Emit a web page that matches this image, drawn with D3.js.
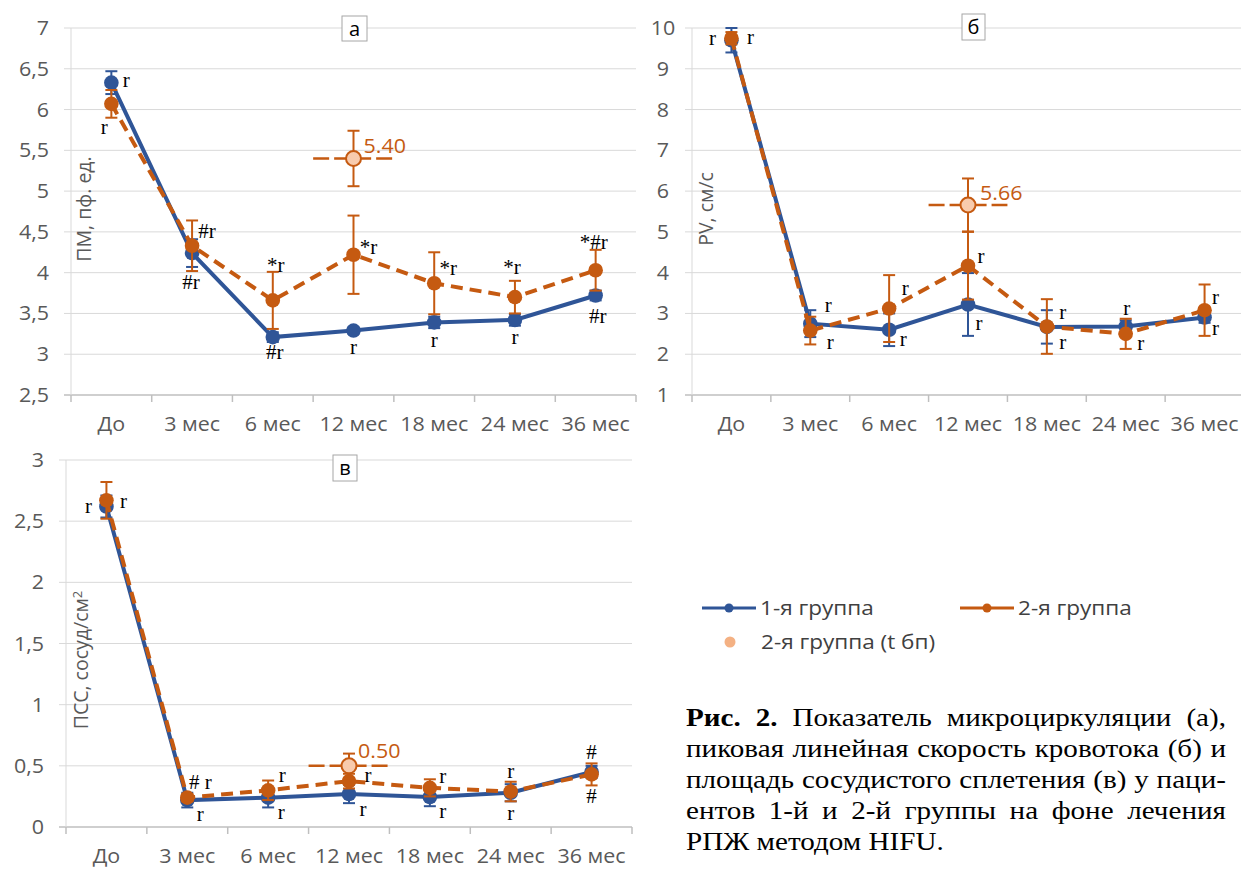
<!DOCTYPE html>
<html>
<head>
<meta charset="utf-8">
<script src="https://cdn.jsdelivr.net/npm/d3@7"></script>
<style>
  body { margin: 0; background: #fff; }
  svg { display: block; }
</style>
</head>
<body>
<svg id="fig" width="1241" height="869"></svg>
<script>
// ---- data ----
const periods = ["До", "3 мес", "6 мес", "12 мес", "18 мес", "24 мес", "36 мес"];
const legendNames = ["1-я группа", "2-я группа", "2-я группа (t бп)"];

// (а) ПМ, пф. ед.
const pmGroup1    = [6.33, 4.24, 3.21, 3.29, 3.39, 3.42, 3.72];
const pmGroup1Err = [0.14, 0.17, 0.06, 0.04, 0.07, 0.07, 0.06];
const pmGroup2    = [6.07, 4.33, 3.66, 4.22, 3.87, 3.70, 4.03];
const pmGroup2Err = [0.17, 0.31, 0.35, 0.48, 0.38, 0.20, 0.25];
const pmTbp = [3, 5.40, 0.34];          // [period index, value, error]
const pmNotes1 = ["r", "#r", "#r", "r", "r", "r", "#r"];
const pmNotes2 = ["r", "#r", "*r", "*r", "*r", "*r", "*#r"];

// (б) PV, см/с
const pvGroup1    = [9.70, 2.75, 2.60, 3.22, 2.67, 2.68, 2.90];
const pvGroup1Err = [0.30, 0.33, 0.40, 0.77, 0.41, 0.15, 0.13];
const pvGroup2    = [9.75, 2.58, 3.12, 4.17, 2.68, 2.50, 3.08];
const pvGroup2Err = [0.15, 0.34, 0.82, 0.83, 0.67, 0.37, 0.63];
const pvTbp = [3, 5.66, 0.65];
const pvNotes1 = ["r", "r", "r", "r", "r", "r", "r"];
const pvNotes2 = ["r", "r", "r", "r", "r", "r", "r"];

// (в) ПСС, сосуд/см2
const pssGroup1    = [2.62, 0.22, 0.24, 0.27, 0.245, 0.28, 0.45];
const pssGroup1Err = [0.09, 0.06, 0.08, 0.075, 0.075, 0.07, 0.05];
const pssGroup2    = [2.67, 0.24, 0.30, 0.375, 0.32, 0.29, 0.43];
const pssGroup2Err = [0.15, 0.03, 0.08, 0.06, 0.07, 0.08, 0.09];
const pssTbp = [3, 0.50, 0.10];
const pssNotes1 = ["r", "r", "r", "r", "r", "r", "#"];
const pssNotes2 = ["r", "# r", "r", "r", "r", "r", "#"];

const captionLines = [
  "Рис. 2. Показатель микроциркуляции (а),",
  "пиковая линейная скорость кровотока (б) и",
  "площадь сосудистого сплетения (в) у паци-",
  "ентов 1-й и 2-й группы на фоне лечения",
  "РПЖ методом HIFU."
];
const captionBold = ["Рис.", "2."];

// ---- styles ----
const BLUE = "#2F5597", ORANGE = "#C55A11", LIGHT = "#F8CBAD", LEGDOT = "#F4B183";
const SANS = "'Open Sans', sans-serif";
const SERIF = "'Liberation Serif', 'Times New Roman', serif";
const GRID = "#d9d9d9", AXIS = "#bfbfbf", TXT = "#595959";
const SX = 1.1;   // the scanned figure is a bit wider than tall

const svg = d3.select("#fig");
const at = (x, y) => `translate(${x},${y}) scale(${SX},1)`;

function drawPanel(p) {
  const g = svg.append("g");
  const x = d3.scaleBand().domain(periods).range([p.left, p.right]);
  const y = d3.scaleLinear().domain(p.domain).range([p.bottom, p.top]);
  const cx = i => x(periods[i]) + x.bandwidth() / 2;
  const ticks = d3.range(p.domain[0], p.domain[1] + 1e-9, p.step);

  // gridlines + left ticks
  g.selectAll(".grid").data(ticks).join("line")
    .attr("x1", p.left - 7).attr("x2", p.right)
    .attr("y1", d => y(d)).attr("y2", d => y(d))
    .attr("stroke", (d, i) => i === 0 ? AXIS : GRID)
    .attr("stroke-width", (d, i) => i === 0 ? 1.5 : 1);
  g.append("line")
    .attr("x1", p.left).attr("x2", p.left)
    .attr("y1", p.top).attr("y2", p.bottom)
    .attr("stroke", GRID);
  // category boundary ticks
  const bounds = periods.map(d => x(d)).concat([p.right]);
  g.selectAll(".ctick").data(bounds).join("line")
    .attr("x1", d => d).attr("x2", d => d)
    .attr("y1", p.bottom).attr("y2", p.bottom + 7)
    .attr("stroke", AXIS).attr("stroke-width", 1.5);

  // y tick labels
  const fmt = d => d3.format(p.step < 1 ? ".1~f" : "d")(d).replace(".", ",");
  g.selectAll(".ylab").data(ticks).join("text")
    .attr("transform", d => at(p.labelX, y(d))).attr("dy", "0.36em")
    .attr("text-anchor", p.labelAnchor)
    .style("font-family", SANS).style("font-size", "19.5px").attr("fill", TXT)
    .text(fmt);

  // x labels
  g.selectAll(".xlab").data(periods).join("text")
    .attr("transform", (d, i) => at(cx(i), p.bottom + 29)).attr("dy", "0.36em")
    .attr("text-anchor", "middle")
    .style("font-family", SANS).style("font-size", "19.5px").attr("fill", TXT)
    .text(d => d);

  // y title
  const yt = g.append("text")
    .attr("transform", `translate(${p.titleX},${p.titleY}) rotate(-90)`)
    .attr("text-anchor", "middle")
    .style("font-family", SANS).style("font-size", "19.5px").attr("fill", TXT)
    .text(p.title);
  if (p.titleSup) yt.append("tspan").attr("dy", "-0.5em").style("font-size", "13px").text(p.titleSup);

  // series
  const line = d3.line().x((d, i) => cx(i)).y(d => y(d));
  function series(vals, errs, color, dash) {
    g.append("path").datum(vals)
      .attr("d", line).attr("fill", "none")
      .attr("stroke", color).attr("stroke-width", 4)
      .attr("stroke-dasharray", dash);
    const eb = g.append("g").attr("stroke", color).attr("stroke-width", 2);
    vals.forEach((v, i) => {
      const x0 = cx(i), lo = y(v - errs[i]), hi = y(v + errs[i]);
      eb.append("line").attr("x1", x0).attr("x2", x0).attr("y1", lo).attr("y2", hi);
      eb.append("line").attr("x1", x0 - 6).attr("x2", x0 + 6).attr("y1", lo).attr("y2", lo);
      eb.append("line").attr("x1", x0 - 6).attr("x2", x0 + 6).attr("y1", hi).attr("y2", hi);
    });
    g.selectAll(null).data(vals).join("circle")
      .attr("cx", (d, i) => cx(i)).attr("cy", d => y(d))
      .attr("r", 7.3).attr("fill", color);
  }
  series(p.g1, p.e1, BLUE, null);
  series(p.g2, p.e2, ORANGE, "12,7");

  // t бп point with horizontal error bar
  const [ti, tv, te] = p.tbp;
  const tx = cx(ti), ty = y(tv);
  g.append("line")
    .attr("x1", tx - x.bandwidth() / 2).attr("x2", tx + x.bandwidth() / 2)
    .attr("y1", ty).attr("y2", ty)
    .attr("stroke", ORANGE).attr("stroke-width", 2.5).attr("stroke-dasharray", "16,5");
  const tb = g.append("g").attr("stroke", ORANGE).attr("stroke-width", 2);
  [[ty, y(tv + te)], [ty, y(tv - te)]].forEach(([a, b]) => {
    tb.append("line").attr("x1", tx).attr("x2", tx).attr("y1", a).attr("y2", b);
    tb.append("line").attr("x1", tx - 6).attr("x2", tx + 6).attr("y1", b).attr("y2", b);
  });
  g.append("circle").attr("cx", tx).attr("cy", ty).attr("r", 7.5)
    .attr("fill", LIGHT).attr("stroke", ORANGE).attr("stroke-width", 2);
  g.append("text")
    .attr("transform", at(tx + p.tbpOff[0], ty + p.tbpOff[1])).attr("dy", "0.36em")
    .style("font-family", SANS).style("font-size", "19.5px").attr("fill", ORANGE)
    .text(tv.toFixed(2));

  // significance marks
  function notes(texts, vals, offs) {
    g.selectAll(null).data(texts).join("text")
      .attr("x", (d, i) => cx(i) + offs[i][0])
      .attr("y", (d, i) => y(vals[i]) + offs[i][1])
      .attr("dy", "0.3em").attr("text-anchor", "middle")
      .style("font-family", SERIF).style("font-size", "21px").attr("fill", "#000")
      .text(d => d);
  }
  notes(p.n1, p.g1, p.o1);
  notes(p.n2, p.g2, p.o2);

  // panel letter
  const [bx, by, bw, bh] = p.box;
  g.append("rect").attr("x", bx).attr("y", by).attr("width", bw).attr("height", bh)
    .attr("fill", "#fff").attr("stroke", "#a6a6a6");
  g.append("text").attr("x", bx + bw / 2).attr("y", by + bh / 2).attr("dy", "0.35em")
    .attr("text-anchor", "middle")
    .style("font-family", SANS).style("font-size", "20px").attr("fill", "#000")
    .text(p.letter);
}

drawPanel({
  left: 71, right: 636, top: 28, bottom: 395, domain: [2.5, 7], step: 0.5,
  labelX: 49, labelAnchor: "end",
  title: "ПМ, пф. ед.", titleX: 91, titleY: 209,
  g1: pmGroup1, e1: pmGroup1Err, g2: pmGroup2, e2: pmGroup2Err, tbp: pmTbp, tbpOff: [10, -13],
  n1: pmNotes1, o1: [[15, -2], [-1, 30], [2, 16], [0, 17], [0, 18], [0, 18], [2, 21]],
  n2: pmNotes2, o2: [[-7, 24], [15, -14], [3, -35], [15, -7], [14, -15], [-3, -29], [-2, -28]],
  box: [342, 16, 25, 25], letter: "а"
});

drawPanel({
  left: 692, right: 1244, top: 28, bottom: 395, domain: [1, 10], step: 1,
  labelX: 663, labelAnchor: "middle",
  title: "PV, см/с", titleX: 713, titleY: 209,
  g1: pvGroup1, e1: pvGroup1Err, g2: pvGroup2, e2: pvGroup2Err, tbp: pvTbp, tbpOff: [12, -12],
  n1: pvNotes1, o1: [[-19, -2], [18, -18], [14, 10], [11, 19], [16, 16], [1, -18], [11, 11]],
  n2: pvNotes2, o2: [[19, 0], [20, 12], [16, -20], [13, -9], [16, -14], [15, 10], [11, -12]],
  box: [962, 14, 23, 26], letter: "б"
});

drawPanel({
  left: 66, right: 632, top: 460, bottom: 827, domain: [0, 3], step: 0.5,
  labelX: 44, labelAnchor: "end",
  title: "ПСС, сосуд/см", titleSup: "2", titleX: 88, titleY: 660,
  g1: pssGroup1, e1: pssGroup1Err, g2: pssGroup2, e2: pssGroup2Err, tbp: pssTbp, tbpOff: [9, -15],
  n1: pssNotes1, o1: [[-18, 0], [13, 15], [13, 15], [14, 16], [13, 15], [0, 21], [0, -19]],
  n2: pssNotes2, o2: [[17, 1], [13, -15], [14, -15], [19, -5], [13, -11], [0, -20], [0, 22]],
  box: [333, 455, 24, 26], letter: "в"
});

// ---- legend ----
const leg = svg.append("g");
[[702, 608, BLUE], [960, 608, ORANGE]].forEach(([lx, ly, c], i) => {
  leg.append("line").attr("x1", lx).attr("x2", lx + 54).attr("y1", ly).attr("y2", ly)
    .attr("stroke", c).attr("stroke-width", 3);
  leg.append("circle").attr("cx", lx + 27).attr("cy", ly).attr("r", 4.5).attr("fill", c);
  leg.append("text").attr("transform", at(lx + 58, ly)).attr("dy", "0.36em")
    .style("font-family", SANS).style("font-size", "20.5px").attr("fill", "#404040")
    .text(legendNames[i]);
});
leg.append("circle").attr("cx", 730).attr("cy", 642).attr("r", 5.5).attr("fill", LEGDOT);
leg.append("text").attr("transform", at(761, 642)).attr("dy", "0.36em")
  .style("font-family", SANS).style("font-size", "20.5px").attr("fill", "#404040")
  .text(legendNames[2]);

// ---- caption, justified ----
(function () {
  const left = 686, right = 1226, top = 726, lh = 31, csx = 1.12;
  const cg = svg.append("g").attr("transform", `translate(${left},0) scale(${csx},1)`);
  const avail = (right - left) / csx;
  captionLines.forEach((ln, li) => {
    const words = ln.split(" ");
    const t = cg.append("text").attr("y", top + li * lh)
      .style("font-family", SERIF).style("font-size", "26px").attr("fill", "#000");
    const spans = words.map((w, wi) => t.append("tspan")
      .attr("font-weight", li === 0 && wi < 2 && captionBold.includes(w) ? "bold" : null)
      .text(w));
    const widths = spans.map(s => s.node().getComputedTextLength());
    const last = li === captionLines.length - 1;
    const gap = last ? 6.5 : (avail - d3.sum(widths)) / (words.length - 1);
    let xp = 0;
    spans.forEach((s, i) => { s.attr("x", xp); xp += widths[i] + gap; });
  });
})();
</script>
</body>
</html>
